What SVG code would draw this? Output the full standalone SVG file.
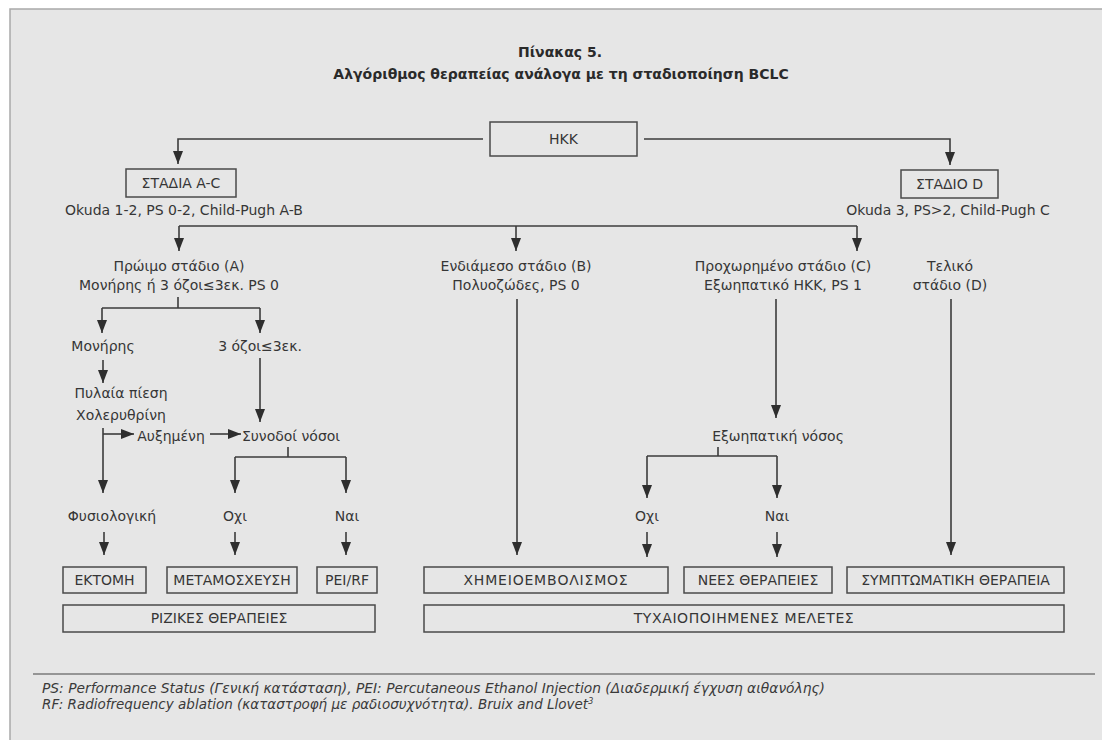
<svg xmlns="http://www.w3.org/2000/svg" width="1102" height="740" viewBox="0 0 1102 740">
<defs>
<style>
.bg{fill:#e6e6e6}
.frame{fill:none;stroke:#a9a9a9;stroke-width:1.5}
.ln{fill:none;stroke:#3c3c3c;stroke-width:1.6}
.ar{fill:none;stroke:#3c3c3c;stroke-width:1.6;marker-end:url(#ah)}
.bx{fill:none;stroke:#4a4a4a;stroke-width:1.5}
.t{font-family:"DejaVu Sans","Liberation Sans",sans-serif;font-size:14px;fill:#363636;text-anchor:middle}
.ttl{font-family:"DejaVu Sans","Liberation Sans",sans-serif;font-size:14px;font-weight:bold;fill:#2a2a2a;text-anchor:middle}
.fn{font-family:"DejaVu Sans","Liberation Sans",sans-serif;font-size:13.5px;font-style:italic;fill:#3a3a3a}
</style>
<marker id="ah" viewBox="0 0 13 10" refX="13" refY="5" markerWidth="13" markerHeight="10" markerUnits="userSpaceOnUse" orient="auto">
<path d="M0,0 L13,5 L0,10 z" fill="#2e2e2e"/>
</marker>
</defs>
<rect x="0" y="0" width="1102" height="740" fill="#ffffff"/>
<rect class="bg" x="10" y="9" width="1092" height="731"/>
<path class="frame" d="M10,740 V9 H1102"/>

<g id="title">
<text class="ttl" x="560" y="57">Πίνακας 5.</text>
<text class="ttl" x="561" y="79">Αλγόριθμος θεραπείας ανάλογα με τη σταδιοποίηση BCLC</text>
</g>

<g id="connectors">
<path class="ar" d="M483,139 H178 V164"/>
<path class="ar" d="M644,139 H950 V165"/>
<path class="ln" d="M179,226 H857"/>
<path class="ar" d="M179,226 V251"/>
<path class="ar" d="M516,226 V251"/>
<path class="ar" d="M857,226 V251"/>
<path class="ln" d="M178,297 V308 M102,308 H260"/>
<path class="ar" d="M102,308 V333"/>
<path class="ar" d="M260,308 V333"/>
<path class="ar" d="M103,360 V383"/>
<path class="ar" d="M260,358 V422"/>
<path class="ar" d="M103,428 V493"/>
<path class="ar" d="M103,434 H134"/>
<path class="ar" d="M210,434 H241"/>
<path class="ln" d="M288,447 V457 M235,457 H346"/>
<path class="ar" d="M235,457 V493"/>
<path class="ar" d="M346,457 V493"/>
<path class="ar" d="M104,532 V555"/>
<path class="ar" d="M235,532 V555"/>
<path class="ar" d="M346,532 V555"/>
<path class="ar" d="M517,299 V555"/>
<path class="ar" d="M776,299 V418"/>
<path class="ln" d="M718,447 V456 M647,456 H777"/>
<path class="ar" d="M647,456 V498"/>
<path class="ar" d="M777,456 V498"/>
<path class="ar" d="M647,532 V557"/>
<path class="ar" d="M777,532 V557"/>
<path class="ar" d="M951,299 V555"/>
</g>

<g id="hkk"><rect class="bx" x="490" y="122" width="147" height="34"/><text class="t" x="563.5" y="144">HKK</text></g>
<g id="stadia-ac"><rect class="bx" x="126" y="169" width="110" height="28"/><text class="t" x="181" y="188">ΣΤΑΔΙΑ A-C</text></g>
<g id="stadia-ac-crit"><text class="t" x="184" y="215">Okuda 1-2, PS 0-2, Child-Pugh A-B</text></g>
<g id="stadio-d"><rect class="bx" x="901" y="170" width="97" height="28"/><text class="t" x="949.5" y="189">ΣΤΑΔΙΟ D</text></g>
<g id="stadio-d-crit"><text class="t" x="948" y="215">Okuda 3, PS&gt;2, Child-Pugh C</text></g>

<g id="early"><text class="t" x="179" y="271">Πρώιμο στάδιο (A)</text><text class="t" x="179" y="290">Μονήρης ή 3 όζοι≤3εκ. PS 0</text></g>
<g id="intermediate"><text class="t" x="516" y="271">Ενδιάμεσο στάδιο (B)</text><text class="t" x="516" y="290">Πολυοζώδες, PS 0</text></g>
<g id="advanced"><text class="t" x="783" y="271">Προχωρημένο στάδιο (C)</text><text class="t" x="783" y="290">Εξωηπατικό HKK, PS 1</text></g>
<g id="terminal"><text class="t" x="950" y="271">Τελικό</text><text class="t" x="950" y="290">στάδιο (D)</text></g>

<g id="single"><text class="t" x="103" y="351">Μονήρης</text></g>
<g id="three"><text class="t" x="260" y="351">3 όζοι≤3εκ.</text></g>
<g id="portal"><text class="t" x="121" y="398">Πυλαία πίεση</text><text class="t" x="121" y="420">Χολερυθρίνη</text></g>
<g id="increased"><text class="t" x="171" y="441">Αυξημένη</text></g>
<g id="comorb"><text class="t" x="291" y="441">Συνοδοί νόσοι</text></g>
<g id="normal"><text class="t" x="112" y="521">Φυσιολογική</text></g>
<g id="no-left"><text class="t" x="235" y="521">Οχι</text></g>
<g id="yes-left"><text class="t" x="347" y="521">Ναι</text></g>
<g id="extrahep"><text class="t" x="778" y="441">Εξωηπατική νόσος</text></g>
<g id="no-right"><text class="t" x="647" y="521">Οχι</text></g>
<g id="yes-right"><text class="t" x="777" y="521">Ναι</text></g>

<g id="resection"><rect class="bx" x="63" y="567" width="83" height="26"/><text class="t" x="104.5" y="585">ΕΚΤΟΜΗ</text></g>
<g id="transplant"><rect class="bx" x="167" y="567" width="130" height="26"/><text class="t" x="232" y="585">ΜΕΤΑΜΟΣΧΕΥΣΗ</text></g>
<g id="pei-rf"><rect class="bx" x="317" y="567" width="60" height="26"/><text class="t" x="347" y="585">PEI/RF</text></g>
<g id="radical"><rect class="bx" x="63" y="605" width="312" height="27"/><text class="t" x="219" y="623">ΡΙΖΙΚΕΣ ΘΕΡΑΠΕΙΕΣ</text></g>
<g id="chemo"><rect class="bx" x="424" y="567" width="244" height="26"/><text class="t" x="546" y="585" letter-spacing="0.8">ΧΗΜΕΙΟΕΜΒΟΛΙΣΜΟΣ</text></g>
<g id="new-therapies"><rect class="bx" x="684" y="567" width="148" height="26"/><text class="t" x="758" y="585">ΝΕΕΣ ΘΕΡΑΠΕΙΕΣ</text></g>
<g id="symptomatic"><rect class="bx" x="847" y="567" width="217" height="26"/><text class="t" x="955.5" y="585">ΣΥΜΠΤΩΜΑΤΙΚΗ ΘΕΡΑΠΕΙΑ</text></g>
<g id="rct"><rect class="bx" x="424" y="605" width="640" height="27"/><text class="t" x="744" y="623" letter-spacing="0.6">ΤΥΧΑΙΟΠΟΙΗΜΕΝΕΣ ΜΕΛΕΤΕΣ</text></g>

<g id="footer">
<path d="M33,674 H1095" stroke="#7a7a7a" stroke-width="1.5" fill="none"/>
<text class="fn" x="42" y="693" textLength="783" lengthAdjust="spacingAndGlyphs">PS: Performance Status (Γενική κατάσταση), PEI: Percutaneous Ethanol Injection (Διαδερμική έγχυση αιθανόλης)</text>
<text class="fn" x="42" y="709">RF: Radiofrequency ablation (καταστροφή με ραδιοσυχνότητα). Bruix and Llovet<tspan font-size="8" dy="-5">3</tspan></text>
</g>
</svg>
